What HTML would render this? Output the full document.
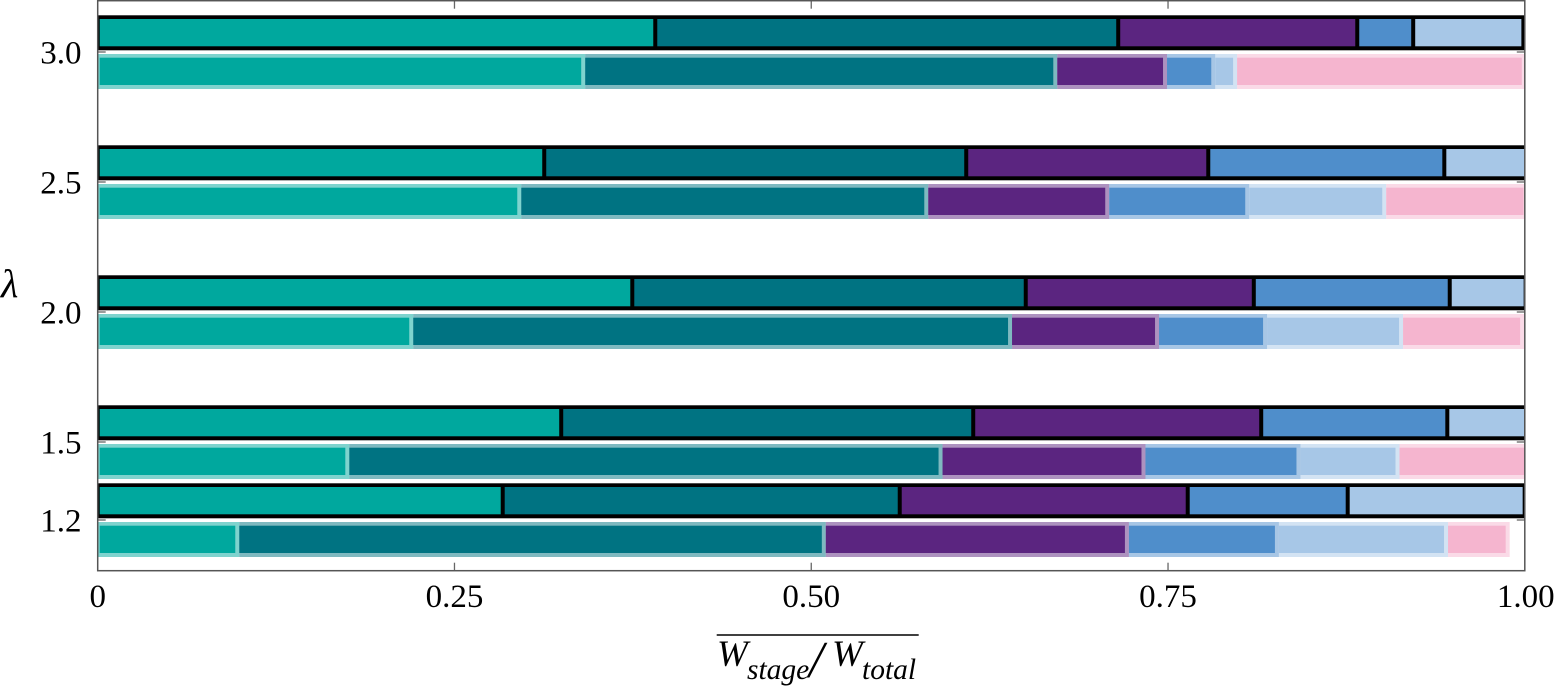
<!DOCTYPE html>
<html lang="en">
<head>
<meta charset="utf-8">
<title>Stage work share by lambda</title>
<style>
html,body{margin:0;padding:0;background:#fff;width:1555px;height:692px;overflow:hidden}
svg{display:block}
text{font-family:"Liberation Serif",serif;fill:#000}
</style>
</head>
<body>
<svg id="chart" xmlns="http://www.w3.org/2000/svg" width="1555" height="692" viewBox="0 0 1555 692">
<defs><clipPath id="plot-clip"><rect x="97.7" y="0.7" width="1427.1" height="570"/></clipPath></defs>
<g id="marks" clip-path="url(#plot-clip)"></g>
</svg>
<script>
const lambdaLabels = ['1.2', '1.5', '2.0', '2.5', '3.0'];
const lambdaValues = [1.2, 1.5, 2.0, 2.5, 3.0];
const xTickValues = [0, 0.25, 0.5, 0.75, 1];
const xTickLabels = ['0', '0.25', '0.50', '0.75', '1.00'];
const upperShares12 = [0.2838, 0.2782, 0.2018, 0.1121, 0.1240];
const lowerShares12 = [0.0978, 0.4110, 0.2124, 0.1051, 0.1185, 0.0432];
const upperShares15 = [0.3248, 0.2887, 0.2018, 0.1304, 0.0552];
const lowerShares15 = [0.1749, 0.4157, 0.1422, 0.1086, 0.0694, 0.0902];
const upperShares20 = [0.3746, 0.2757, 0.1598, 0.1373, 0.0532];
const lowerShares20 = [0.2197, 0.4196, 0.1030, 0.0757, 0.0953, 0.0848];
const upperShares25 = [0.3129, 0.2957, 0.1696, 0.1654, 0.0576];
const lowerShares25 = [0.2954, 0.2852, 0.1268, 0.0981, 0.0960, 0.0990];
const upperShares30 = [0.3907, 0.3244, 0.1675, 0.0392, 0.0772];
const lowerShares30 = [0.3402, 0.3308, 0.0769, 0.0338, 0.0153, 0.2023];
const upperRows = [upperShares12, upperShares15, upperShares20, upperShares25, upperShares30];
const lowerRows = [lowerShares12, lowerShares15, lowerShares20, lowerShares25, lowerShares30];
const stageColors = ['#00a89e', '#007382', '#5b2580', '#4f8ecb', '#a7c7e7', '#f5b5cf'];

const NS = 'http://www.w3.org/2000/svg';
const svg = document.getElementById('chart');
const marks = document.getElementById('marks');
const L = 97.7, R = 1524.8, T = 0.7, B = 570.7;
const xScale = v => L + (R - L) * v;
const yScale = l => 52 + (3 - l) * 260;

function add(tag, attrs, parent) {
  const el = document.createElementNS(NS, tag);
  for (const k in attrs) el.setAttribute(k, attrs[k]);
  (parent || svg).appendChild(el);
  return el;
}

lambdaValues.forEach((lam, r) => {
  const tick = yScale(lam);

  // upper bar: black outlined segments
  let cum = 0;
  const upper = upperRows[r];
  const upperEnd = xScale(upper.reduce((a, b) => a + b, 0));
  const outline = add('rect', {x: L, y: tick - 36.7, width: upperEnd + 2 - L, height: 35, fill: '#000'}, marks);
  
  
  upper.forEach((w, s) => {
    const x0 = xScale(cum);
    const x1 = xScale(cum + w);
    const seg = add('rect', {x: x0 + 2, y: tick - 33, width: x1 - x0 - 4, height: 27.3, fill: stageColors[s]}, marks);
    
    
    cum += w;
  });

  // lower bar: translucent outlined segments
  cum = 0;
  lowerRows[r].forEach((w, s) => {
    const x0 = xScale(cum);
    const x1 = xScale(cum + w);
    const halo = add('rect', {x: s === 0 ? x0 : x0 + 2, y: tick + 2, width: x1 - x0 - (s === 0 ? -2 : 0), height: 35, fill: stageColors[s], 'fill-opacity': 0.5}, marks);
    
    
    const seg = add('rect', {x: x0 + 2, y: tick + 5.7, width: x1 - x0 - 4, height: 27.3, fill: stageColors[s]}, marks);
    
    
    cum += w;
  });

  // y ticks
  const tl = add('line', {x1: L, x2: L + 8, y1: tick, y2: tick, stroke: '#666', 'stroke-width': 1.3});
  
  
  const tr = add('line', {x1: R - 8, x2: R, y1: tick, y2: tick, stroke: '#666', 'stroke-width': 1.3});
  
  

  const lab = add('text', {x: 81.5, y: tick + 11.3, 'text-anchor': 'end', 'font-size': 33});
  
  
  lab.textContent = lambdaLabels[r];
});

xTickValues.forEach((v, i) => {
  const x = xScale(v);
  if (i > 0 && i < xTickValues.length - 1) {
    const tb = add('line', {x1: x, x2: x, y1: B - 8, y2: B, stroke: '#666', 'stroke-width': 1.3});
    
    
    const tt = add('line', {x1: x, x2: x, y1: T, y2: T + 8, stroke: '#666', 'stroke-width': 1.3});
    
    
  }
  const lab = add('text', {x: i === xTickValues.length - 1 ? x + 1 : x, y: 607, 'text-anchor': 'middle', 'font-size': 33});
  
  
  lab.textContent = xTickLabels[i];
});

const frame = add('rect', {x: L, y: T, width: R - L, height: B - T, fill: 'none', stroke: '#555', 'stroke-width': 1.5});



const yTitle = add('text', {x: 1, y: 297, 'font-size': 40, 'font-style': 'italic'});


yTitle.textContent = 'λ';

const bar = add('line', {x1: 716.7, x2: 918.7, y1: 635, y2: 635, stroke: '#000', 'stroke-width': 1.4});



const xTitle = add('text', {'font-style': 'italic', 'font-size': 36});


[['W', 37, 717, 666], ['stage', 29.5, 747, 679], ['/', 52, 809, 677], ['W', 37, 832, 666], ['total', 29.5, 862, 679]].forEach(p => {
  const sp = add('tspan', {'font-size': p[1], x: p[2], y: p[3]}, xTitle);
  sp.textContent = p[0];
});
</script>
</body>
</html>
